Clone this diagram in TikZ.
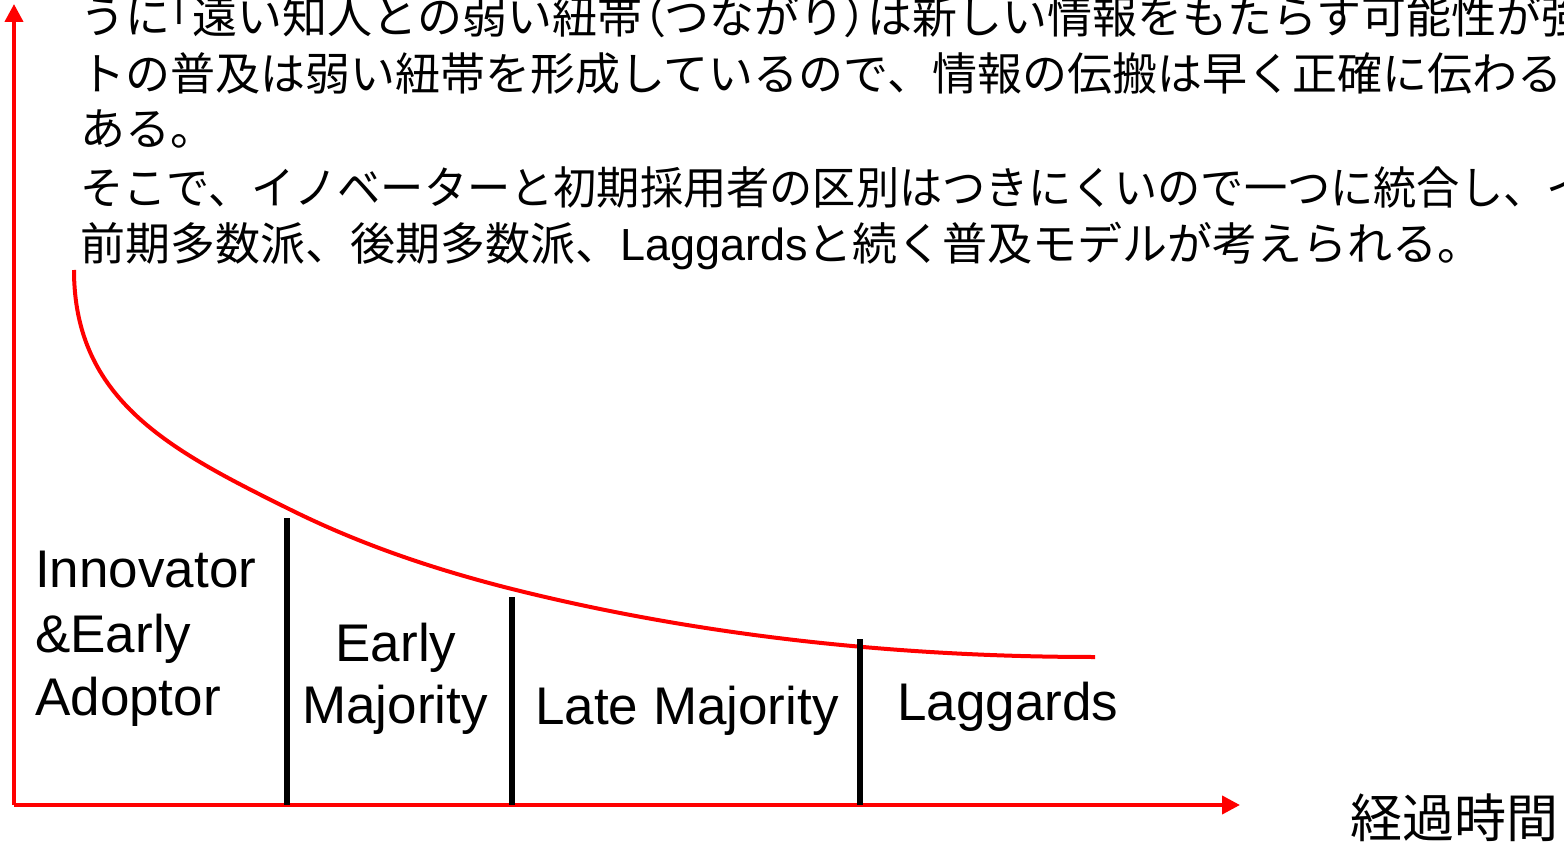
\documentclass[tikz,border=0pt]{standalone}
\usepackage{fontspec}
\setmainfont{Liberation Sans}
\newfontfamily\jp{Noto Sans CJK JP}
\newfontfamily\jpp[RawFeature={+palt}]{Noto Sans CJK JP}
\newcommand\hbr[1]{{\jpp #1}}
\usetikzlibrary{arrows.meta}
\begin{document}
\begin{tikzpicture}[x=1pt,y=-1pt,
 axis/.style={red, line width=4pt, -{Triangle[width=18pt,length=18pt]}},
 bar/.style={black, line width=6pt},
 curve/.style={red, line width=4pt},
 lbl/.style={inner sep=0pt, anchor=base west, font=\fontsize{53}{64}\selectfont},
 clbl/.style={inner sep=0pt, anchor=base, font=\fontsize{53}{64}\selectfont},
 jtext/.style={inner sep=0pt, anchor=base west, font=\jp\fontsize{45}{57}\selectfont},
]
\useasboundingbox (0,0) rectangle (1564,842);
\clip (0,0) rectangle (1564,842);

% text block
\node[jtext] (t1) at (80,34) {うに\hbr{「}遠い知人との弱い紐帯\hbr{（}つながり\hbr{）}は新しい情報をもたらす可能性が強};
\node[jtext] (t2) at (80,91) {トの普及は弱い紐帯を形成しているので、情報の伝搬は早く正確に伝わる};
\node[jtext] (t3) at (80,146) {ある。};
\node[jtext] (t4) at (80,205) {\scalebox{0.96}[1]{そこで、イノベーターと初期採用者の区別はつきにくいので一つに統合し、イ}};
\node[jtext] (t5) at (80,261) {前期多数派、後期多数派、{\rmfamily Laggards}と続く普及モデルが考えられる。};

% axes
\coordinate (o) at (14,805);
\coordinate (ytop) at (14,4);
\coordinate (xend) at (1240,805);
\draw[axis] (o) -- (ytop);
\draw[axis] (o) -- (xend);

% curve
\coordinate (c0) at (74,270);
\coordinate (c1) at (287,508);
\coordinate (c2) at (512,589);
\coordinate (c3) at (1095,657);
\draw[curve] (c0) .. controls (74,400) and (170,450) .. (c1)
                  .. controls (362,545.5) and (437,570) .. (c2)
                  .. controls (702,636.5) and (900,657) .. (c3);

% bars
\coordinate (b1t) at (287,518); \coordinate (b1b) at (287,805);
\coordinate (b2t) at (512,597); \coordinate (b2b) at (512,805);
\coordinate (b3t) at (860,639); \coordinate (b3b) at (860,805);
\draw[bar] (b1t) -- (b1b);
\draw[bar] (b2t) -- (b2b);
\draw[bar] (b3t) -- (b3b);

% labels
\node[lbl] (i1) at (35,587) {Innovator};
\node[lbl] (i2) at (35,652) {\&Early};
\node[lbl] (i3) at (35,715) {Adoptor};
\node[clbl] (e1) at (396,661) {Early};
\node[clbl] (e2) at (395,723) {Majority};
\node[lbl] (lm) at (535,724) {Late Majority};
\node[lbl] (lg) at (897,720) {Laggards};
\node[inner sep=0pt, anchor=base west, font=\jp\fontsize{52}{60}\selectfont] (xl) at (1350,837) {経過時間};
\end{tikzpicture}
\end{document}
